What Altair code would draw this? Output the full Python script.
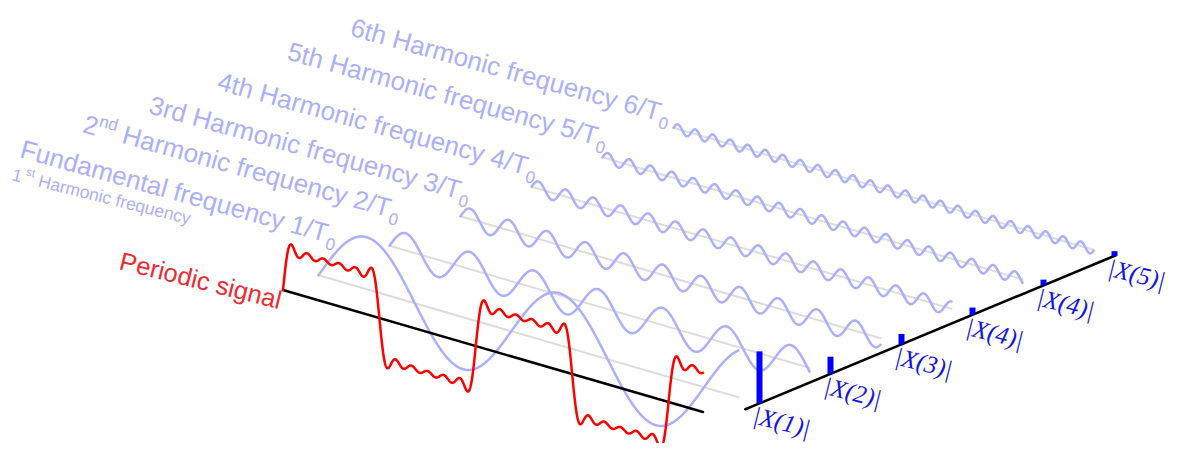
import math
import numpy as np
import pandas as pd
import altair as alt

# ---------------- values ----------------
harmonic_order = [1, 3, 5, 7, 9, 11]                  # frequency multiple of each component
magnitudes = [1.0, 0.33, 0.20, 0.14, 0.11, 0.09]      # |X(k)| relative to |X(1)| (bar heights)
period_fraction = 0.459                               # T0 as a share of the drawn time span

label_prefix = ["", "2", "", "", "", ""]
label_sup = ["", "nd", "", "", "", ""]
label_main = [
    "Fundamental frequency 1/T",
    "Harmonic frequency 2/T",
    "3rd Harmonic frequency 3/T",
    "4th Harmonic frequency 4/T",
    "5th Harmonic frequency 5/T",
    "6th Harmonic frequency 6/T",
]
label_sub = "0"
note_parts = ["1", "st", "Harmonic frequency"]
signal_label = "Periodic signal"
bar_labels = ["|X(1)|", "|X(2)|", "|X(3)|", "|X(4)|", "|X(4)|", "|X(5)|"]

# ---------------- layout (oblique projection) ----------------
W, H, M = 1180, 435, 8
ORIGIN = (283.0, 290.0)
TVEC = (420.0, 122.0)
PSTEP = (71.0, -29.5)
APX = 52.0
BLUE_LIGHT = "#aab0ff"


def proj(t, p, a):
    x = ORIGIN[0] + TVEC[0] * t + PSTEP[0] * p
    y = ORIGIN[1] + TVEC[1] * t + PSTEP[1] * p - APX * a
    return x, y


def rot(u, v, ang):
    r = math.radians(ang)
    return (u * math.cos(r) - v * math.sin(r), u * math.sin(r) + v * math.cos(r))


ARIAL = {' ': 278, '/': 278, 'F': 611, 'H': 722, 'T': 611, 'P': 667, 'a': 556, 'c': 500,
         'd': 556, 'e': 556, 'f': 278, 'g': 556, 'h': 556, 'i': 222, 'l': 222, 'm': 833,
         'n': 556, 'o': 556, 'q': 556, 'r': 333, 's': 500, 't': 278, 'u': 556, 'y': 500}


def tw(s, size):
    return sum(ARIAL.get(c, 556) for c in s) / 1000.0 * size


# ---------------- line data ----------------
tt = np.linspace(0.0, 1.0, 1600)
line_rows = []


def add(series, xs, ys):
    for i, (x, y) in enumerate(zip(xs, ys)):
        line_rows.append({"series": series, "i": i, "x": x, "y": y})


signal = np.zeros_like(tt)
for k, (n, mag) in enumerate(zip(harmonic_order, magnitudes)):
    comp = mag * np.sin(2 * np.pi * n * tt / period_fraction)
    signal += comp
    p = k + 0.5
    gx, gy = proj(np.array([0.0, 1.0]), p, 0.0)
    add(f"g{k}", gx, gy)
    bx, by = proj(tt, p, comp)
    add(f"h{k}", bx, by)

sx, sy = proj(tt, 0.0, signal)
add("signal", sx, sy)
ax_x, ax_y = proj(np.array([0.0, 1.0]), 0.0, 0.0)
add("taxis", ax_x, ax_y)
fx, fy = proj(np.array([1.05, 1.05]), np.array([0.3, 5.52]), 0.0)
add("faxis", fx, fy)

lines = pd.DataFrame(line_rows)

XA = 14
bar_rows = []
for k, mag in enumerate(magnitudes):
    x0, y0 = proj(1.05, k + 0.5, 0.0)
    x1, y1 = proj(1.05, k + 0.5, mag)
    ox, oy = rot(-3, 1, XA)
    bar_rows.append({"x": x0, "y": y0, "x2": x1, "y2": y1, "lab": bar_labels[k],
                     "lx": x0 + ox, "ly": y0 + oy})
bars = pd.DataFrame(bar_rows)

# ---------------- text pieces ----------------
text_rows = []
ends = [(325, 242), (388, 217), (458, 199), (525, 175), (595, 145), (658, 121)]
ANG, SZ, SUBSZ = 15.5, 26, 17
for k in range(6):
    ex, ey = ends[k]
    wm = tw(label_main[k], SZ)
    dx, dy = rot(-wm, 0, ANG)
    msx, msy = ex + dx, ey + dy
    text_rows.append({"x": msx, "y": msy, "text": label_main[k], "size": SZ, "color": BLUE_LIGHT, "angle": ANG})
    ox, oy = rot(1.0, 6.5, ANG)
    text_rows.append({"x": ex + ox, "y": ey + oy, "text": label_sub, "size": SUBSZ, "color": BLUE_LIGHT, "angle": ANG})
    if label_prefix[k]:
        wsup = tw(label_sup[k], SUBSZ)
        wsp = tw(" ", SZ)
        wpre = tw(label_prefix[k], SZ)
        ox, oy = rot(-wsp - wsup, -10, ANG)
        text_rows.append({"x": msx + ox, "y": msy + oy, "text": label_sup[k], "size": SUBSZ, "color": BLUE_LIGHT, "angle": ANG})
        ox, oy = rot(-wsp - wsup - wpre, 0, ANG)
        text_rows.append({"x": msx + ox, "y": msy + oy, "text": label_prefix[k], "size": SZ, "color": BLUE_LIGHT, "angle": ANG})

# 1st harmonic note
NA, NS, NSUP = 14, 17.5, 12
nx, ny = 11, 180
text_rows.append({"x": nx, "y": ny, "text": note_parts[0], "size": NS, "color": BLUE_LIGHT, "angle": NA})
u = tw(note_parts[0], NS) + 3
ox, oy = rot(u, -8, NA)
text_rows.append({"x": nx + ox, "y": ny + oy, "text": note_parts[1], "size": NSUP, "color": BLUE_LIGHT, "angle": NA})
u += tw(note_parts[1], NSUP) + tw(" ", NS)
ox, oy = rot(u, 0, NA)
text_rows.append({"x": nx + ox, "y": ny + oy, "text": note_parts[2], "size": NS, "color": BLUE_LIGHT, "angle": NA})

# periodic signal label (right end at the start of the signal)
RA, RS = 14, 25.5
wr = tw(signal_label, RS)
ox, oy = rot(-wr, 0, RA)
text_rows.append({"x": 279 + ox, "y": 309 + oy, "text": signal_label, "size": RS, "color": "#ee2a35", "angle": RA})

texts = pd.DataFrame(text_rows)

# ---------------- chart ----------------
xs = alt.Scale(domain=[M, M + W])
ys = alt.Scale(domain=[M, M + H], reverse=True)
X = alt.X("x:Q", scale=xs, axis=None)
Y = alt.Y("y:Q", scale=ys, axis=None)


def line_layer(prefix_filter, color, width):
    return alt.Chart(lines).transform_filter(prefix_filter).mark_line(
        color=color, strokeWidth=width, strokeCap="round", strokeJoin="round"
    ).encode(x=X, y=Y, detail="series:N", order="i:Q")


gray = line_layer("indexof(datum.series, 'g') == 0", "#dcdcdc", 2)
blue = line_layer("indexof(datum.series, 'h') == 0", BLUE_LIGHT, 2.5)
black = line_layer("datum.series == 'taxis' || datum.series == 'faxis'", "#000000", 2.5)
red = line_layer("datum.series == 'signal'", "#ff0000", 2.5)

bar_layer = alt.Chart(bars).mark_rule(color="#0000ff", strokeWidth=6, strokeCap="butt").encode(
    x=X, y=Y, x2="x2:Q", y2="y2:Q"
)
bar_text = alt.Chart(bars).mark_text(
    align="left", baseline="top", font="Liberation Serif", fontStyle="italic",
    fontSize=25, angle=XA, color="#1414e6"
).encode(x=alt.X("lx:Q", scale=xs, axis=None), y=alt.Y("ly:Q", scale=ys, axis=None), text="lab:N")

text_layer = alt.Chart(texts).mark_text(
    align="left", baseline="alphabetic", font="Liberation Sans"
).encode(
    x=X, y=Y, text="text:N",
    size=alt.Size("size:Q", scale=None, legend=None),
    color=alt.Color("color:N", scale=None, legend=None),
    angle=alt.Angle("angle:Q", scale=None),
)

chart = alt.layer(gray, blue, black, red, bar_layer, bar_text, text_layer).properties(
    width=W, height=H, autosize=alt.AutoSizeParams(type="none"), padding=0,
    background="white"
).configure_view(stroke=None, strokeWidth=0)

chart.save("out.html", embed_options={"renderer": "svg", "actions": False})
